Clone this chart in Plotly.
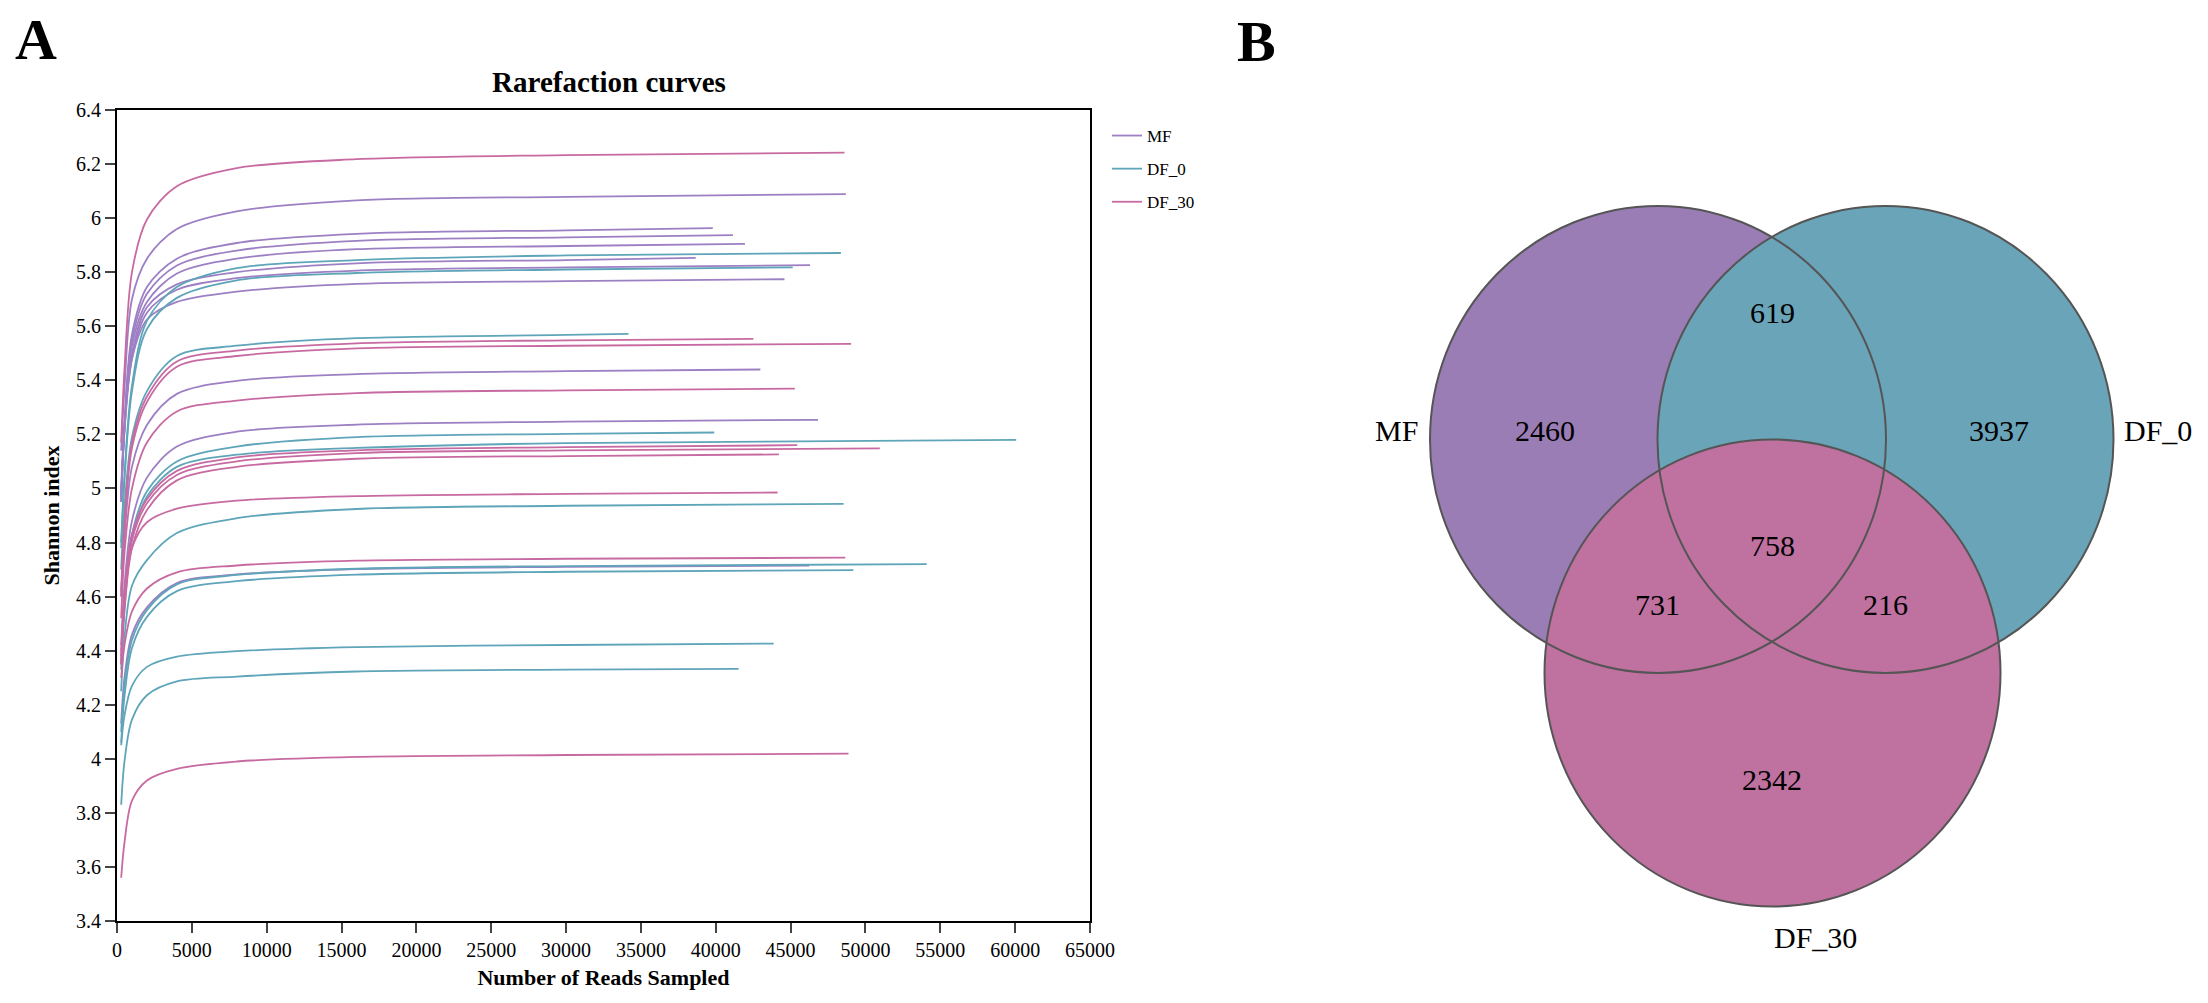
import numpy as np
from plotly import graph_objects as go

# --- Rarefaction data ---
# every curve is sampled at these read depths, then ends at its own depth
reads_grid = [280, 500, 1000, 2000, 4000, 8000, 16000, 30000]

mf_end_reads = [48690, 39800, 41150, 41950, 38660, 46300, 44590, 42980, 46830, 46250]
mf_shannon = [
	[5.14, 5.37, 5.70, 5.85, 5.96, 6.025, 6.066, 6.079, 6.089],
	[5.00, 5.25, 5.57, 5.745, 5.85, 5.908, 5.942, 5.955, 5.963],
	[4.98, 5.23, 5.55, 5.72, 5.825, 5.88, 5.916, 5.929, 5.937],
	[4.97, 5.22, 5.53, 5.69, 5.795, 5.85, 5.885, 5.897, 5.905],
	[4.96, 5.22, 5.50, 5.67, 5.755, 5.80, 5.833, 5.845, 5.853],
	[4.95, 5.21, 5.48, 5.65, 5.735, 5.778, 5.806, 5.818, 5.826],
	[4.95, 5.22, 5.48, 5.625, 5.69, 5.728, 5.757, 5.767, 5.774],
	[4.60, 4.82, 5.08, 5.235, 5.35, 5.398, 5.423, 5.434, 5.440],
	[4.42, 4.64, 4.88, 5.04, 5.155, 5.21, 5.236, 5.247, 5.254],
	[4.13, 4.30, 4.46, 4.56, 4.65, 4.682, 4.702, 4.710, 4.715],
]

df0_end_reads = [48360, 45140, 34170, 39900, 60070, 48540, 54090, 49190, 43870, 41520]
df0_shannon = [
	[4.80, 5.05, 5.38, 5.62, 5.745, 5.815, 5.845, 5.862, 5.871],
	[4.78, 5.03, 5.36, 5.59, 5.705, 5.77, 5.797, 5.81, 5.818],
	[4.70, 4.93, 5.19, 5.36, 5.49, 5.528, 5.556, 5.568, 5.572],
	[4.35, 4.58, 4.83, 4.99, 5.10, 5.155, 5.19, 5.202, 5.207],
	[4.33, 4.55, 4.81, 4.97, 5.08, 5.125, 5.15, 5.168, 5.180],
	[4.25, 4.45, 4.64, 4.735, 4.835, 4.89, 4.924, 4.936, 4.943],
	[4.10, 4.27, 4.44, 4.55, 4.645, 4.68, 4.703, 4.713, 4.720],
	[4.06, 4.23, 4.41, 4.525, 4.62, 4.657, 4.681, 4.692, 4.698],
	[4.05, 4.16, 4.27, 4.34, 4.378, 4.398, 4.413, 4.421, 4.426],
	[3.83, 3.99, 4.145, 4.235, 4.286, 4.304, 4.323, 4.33, 4.333],
]

df30_end_reads = [48600, 42510, 49040, 45280, 45440, 50960, 44220, 44130, 48650, 48870]
df30_shannon = [
	[5.17, 5.44, 5.80, 5.995, 6.118, 6.185, 6.218, 6.233, 6.242],
	[4.62, 4.87, 5.17, 5.34, 5.47, 5.51, 5.537, 5.548, 5.553],
	[4.60, 4.85, 5.15, 5.32, 5.45, 5.49, 5.518, 5.528, 5.535],
	[4.52, 4.76, 5.00, 5.17, 5.285, 5.325, 5.353, 5.363, 5.369],
	[4.40, 4.60, 4.83, 4.96, 5.065, 5.115, 5.141, 5.153, 5.160],
	[4.38, 4.58, 4.81, 4.945, 5.05, 5.10, 5.131, 5.141, 5.148],
	[4.35, 4.55, 4.78, 4.92, 5.03, 5.08, 5.11, 5.12, 5.126],
	[4.35, 4.58, 4.78, 4.875, 4.925, 4.955, 4.972, 4.98, 4.985],
	[4.30, 4.42, 4.545, 4.63, 4.69, 4.715, 4.733, 4.74, 4.744],
	[3.56, 3.69, 3.845, 3.92, 3.963, 3.99, 4.007, 4.014, 4.019],
]

x_ticks = [0, 5000, 10000, 15000, 20000, 25000, 30000, 35000, 40000, 45000, 50000, 55000, 60000, 65000]
y_ticks = [3.4, 3.6, 3.8, 4.0, 4.2, 4.4, 4.6, 4.8, 5.0, 5.2, 5.4, 5.6, 5.8, 6.0, 6.2, 6.4]
y_tick_labels = ['3.4', '3.6', '3.8', '4', '4.2', '4.4', '4.6', '4.8', '5', '5.2', '5.4', '5.6', '5.8', '6', '6.2', '6.4']

# --- Venn data ---
venn_sets = ['MF', 'DF_0', 'DF_30']
venn_regions = ['MF only', 'DF_0 only', 'DF_30 only', 'MF&DF_0', 'MF&DF_30', 'DF_0&DF_30', 'all']
venn_counts = [2460, 3937, 2342, 619, 731, 216, 758]

# page is 2208x1003, the body keeps an 8px margin round the figure
PAGE_W, PAGE_H, PAD = 2208, 1003, 8
W, H = PAGE_W - 2 * PAD, PAGE_H - 2 * PAD
FONT = "Liberation Serif"

line_colors = {'MF': '#9d7fc4', 'DF_0': '#5fa5b9', 'DF_30': '#c86aa2'}
fill_colors = {'MF': '#9b7db6', 'DF_0': '#6aa4b8', 'DF_30': '#bf71a0'}


def px_x(px):
	return (px - PAD) / W


def px_y(py):
	return 1 - (py - PAD) / H


def add_rarefaction(fig):
	groups = [('MF', mf_end_reads, mf_shannon),
			  ('DF_0', df0_end_reads, df0_shannon),
			  ('DF_30', df30_end_reads, df30_shannon)]
	for name, ends, curves in groups:
		for i, (end, vals) in enumerate(zip(ends, curves)):
			fig.add_trace(go.Scatter(
				x=reads_grid + [end], y=vals,
				mode='lines',
				line=dict(color=line_colors[name], width=1.8, shape='spline', smoothing=0.9),
				name=name, legendgroup=name, showlegend=(i == 0),
				xaxis='x', yaxis='y'
			))


def add_venn(fig):
	# ellipse centres / radii in page pixels of the right panel
	centers = {'MF': (1658, 439.4), 'DF_0': (1885.5, 439.4), 'DF_30': (1772.5, 673)}
	rx, ry = 228, 233.5
	for s in venn_sets:
		cx, cy = centers[s]
		fig.add_shape(type='circle', xref='x2', yref='y2',
					  x0=cx - rx, x1=cx + rx, y0=cy - ry, y1=cy + ry,
					  fillcolor=fill_colors[s], line=dict(width=0), layer='below')
	for s in venn_sets:
		cx, cy = centers[s]
		fig.add_shape(type='circle', xref='x2', yref='y2',
					  x0=cx - rx, x1=cx + rx, y0=cy - ry, y1=cy + ry,
					  fillcolor='rgba(0,0,0,0)', line=dict(color='#555555', width=2), layer='above')

	label_pos = {'MF': (1396, 430), 'DF_0': (2158, 430), 'DF_30': (1815, 937)}
	for s in venn_sets:
		fig.add_annotation(x=label_pos[s][0], y=label_pos[s][1], xref='x2', yref='y2',
						   xanchor='center', yanchor='middle',
						   text=s, showarrow=False, font=dict(family=FONT, size=30, color='black'))

	region_pos = [(1545, 430), (1999, 430), (1772, 779), (1772, 312),
				  (1657, 604), (1885.5, 604), (1772, 545.5)]
	for (px, py), n in zip(region_pos, venn_counts):
		fig.add_annotation(x=px, y=py, xref='x2', yref='y2', text=str(n),
						   xanchor='center', yanchor='middle',
						   showarrow=False, font=dict(family=FONT, size=30, color='black'))


def make_figure() -> go.Figure:
	fig = go.Figure()
	add_rarefaction(fig)
	add_venn(fig)

	fig.update_layout(
		width=W, height=H,
		margin=dict(l=0, r=0, t=0, b=0),
		paper_bgcolor='white', plot_bgcolor='white',
		font=dict(family=FONT, size=20, color='black'),
		title=dict(text='<b>Rarefaction curves</b>', x=px_x(609), y=px_y(82),
				   xanchor='center', yanchor='middle', font=dict(family=FONT, size=29, color='black')),
		xaxis=dict(domain=[px_x(117), px_x(1090)], range=[0, 65000], tickvals=x_ticks, tickformat='d',
				   ticks='outside', ticklen=10, tickwidth=2, showline=True, linewidth=2,
				   linecolor='black', mirror=True, showgrid=False, zeroline=False,
				   tickfont=dict(family=FONT, size=20), automargin=False,
				   title=dict(text='<b>Number of Reads Sampled</b>', font=dict(family=FONT, size=22), standoff=10)),
		yaxis=dict(domain=[px_y(921), px_y(110)], range=[3.4, 6.4], tickvals=y_ticks, ticktext=y_tick_labels,
				   ticks='outside', ticklen=10, tickwidth=2, showline=True, linewidth=2,
				   linecolor='black', mirror=True, showgrid=False, zeroline=False,
				   tickfont=dict(family=FONT, size=20), automargin=False,
				   title=dict(text='<b>Shannon index</b>', font=dict(family=FONT, size=22), standoff=10)),
		# right panel axes map straight onto page pixels
		xaxis2=dict(domain=[0.5, 1], range=[PAD + 0.5 * W, PAD + W], visible=False, anchor='y2'),
		yaxis2=dict(domain=[0, 1], range=[PAD + H, PAD], visible=False, anchor='x2'),
		legend=dict(x=px_x(1107), y=px_y(118), xanchor='left', yanchor='top',
					font=dict(family=FONT, size=17, color='black'), traceorder='grouped',
					tracegroupgap=8, itemwidth=30, bgcolor='rgba(0,0,0,0)'),
		showlegend=True,
	)

	fig.add_annotation(x=px_x(36), y=px_y(39), xref='paper', yref='paper', text='<b>A</b>',
					   xanchor='center', yanchor='middle',
					   showarrow=False, font=dict(family=FONT, size=58, color='black'))
	fig.add_annotation(x=px_x(1256), y=px_y(41), xref='paper', yref='paper', text='<b>B</b>',
					   xanchor='center', yanchor='middle',
					   showarrow=False, font=dict(family=FONT, size=58, color='black'))
	return fig


if __name__ == "__main__":
	fig = make_figure()
	fig.write_html("out.html")
